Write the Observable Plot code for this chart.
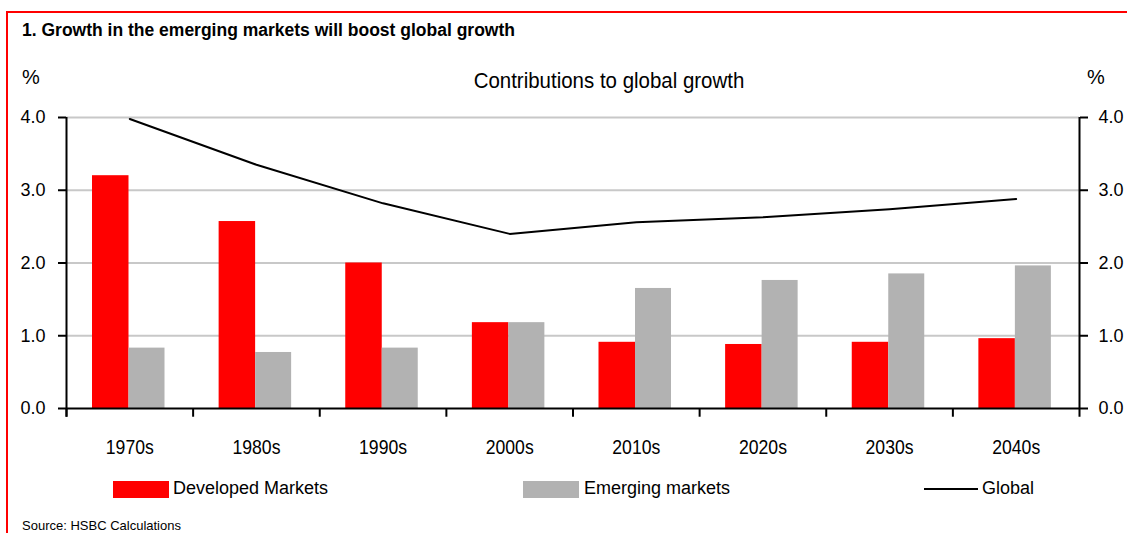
<!DOCTYPE html>
<html>
<head>
<meta charset="utf-8">
<script src="https://cdn.jsdelivr.net/npm/d3@7"></script>
<script src="https://cdn.jsdelivr.net/npm/@observablehq/plot@0.6"></script>
<style>
  html, body { margin: 0; padding: 0; background: #fff; }
  #wrap { position: relative; width: 1127px; height: 533px; overflow: hidden; background: #fff;
          font-family: "Liberation Sans", Arial, Helvetica, sans-serif; color: #000; }
  #border { position: absolute; left: 6px; top: 11px; width: 1200px; height: 600px;
            border-left: 2px solid #ff0000; border-top: 2px solid #ff0000; }
  .t { position: absolute; line-height: 1; white-space: nowrap; }
  #chart { position: absolute; left: 0; top: 0; }
  .sw { position: absolute; }
</style>
</head>
<body>
<div id="wrap">
  <div id="border"></div>
  <div id="chart"></div>
  <div class="t" id="title" style="left:22px; top:22px; font-size:17.5px; font-weight:bold;"></div>
  <div class="t" id="pctL" style="left:22px; top:67px; font-size:20px;">%</div>
  <div class="t" id="pctR" style="left:1087px; top:67px; font-size:20px;">%</div>
  <div class="t" id="subtitle" style="left:609px; top:70px; font-size:22px; transform: translateX(-50%) scaleX(0.93);"></div>
  <div class="sw" style="left:113px; top:481px; width:56px; height:17px; background:#ff0000;"></div>
  <div class="t" id="lg1" style="left:173px; top:479px; font-size:18px;"></div>
  <div class="sw" style="left:523px; top:481px; width:56px; height:17px; background:#b2b2b2;"></div>
  <div class="t" id="lg2" style="left:584px; top:479px; font-size:18px;"></div>
  <div class="sw" style="left:924px; top:488px; width:54px; height:2px; background:#000;"></div>
  <div class="t" id="lg3" style="left:982px; top:479px; font-size:18px;"></div>
  <div class="t" id="source" style="left:22px; top:519px; font-size:13px;"></div>
</div>
<script>
// ---- data ----
const decades   = ["1970s", "1980s", "1990s", "2000s", "2010s", "2020s", "2030s", "2040s"];
const developed = [3.20, 2.57, 2.00, 1.18, 0.91, 0.88, 0.91, 0.96];
const emerging  = [0.83, 0.77, 0.83, 1.18, 1.65, 1.76, 1.85, 1.96];
const global    = [3.98, 3.35, 2.82, 2.40, 2.56, 2.63, 2.74, 2.88];
const yTicks    = [0, 1, 2, 3, 4];
const seriesNames = ["Developed Markets", "Emerging markets", "Global"];
const titleText = "1. Growth in the emerging markets will boost global growth";
const subtitleText = "Contributions to global growth";
const sourceText = "Source: HSBC Calculations";

document.getElementById("title").textContent = titleText;
document.getElementById("subtitle").textContent = subtitleText;
document.getElementById("lg1").textContent = seriesNames[0];
document.getElementById("lg2").textContent = seriesNames[1];
document.getElementById("lg3").textContent = seriesNames[2];
document.getElementById("source").textContent = sourceText;

const rows = decades.map((d, i) => ({decade: d, developed: developed[i], emerging: emerging[i], global: global[i]}));

const W = 1127, H = 533;
const mL = 66, mR = 48, mT = 117, mB = 125;
const bw = (W - mL - mR) / decades.length;
const tickBelow = -0.12;

const chart = Plot.plot({
  width: W,
  height: H,
  marginLeft: mL,
  marginRight: mR,
  marginTop: mT,
  marginBottom: mB,
  style: {fontFamily: "'Liberation Sans', Arial, sans-serif", color: "#000", background: "transparent", overflow: "visible"},
  x: {type: "band", domain: decades, padding: 0, round: false},
  y: {domain: [0, 4]},
  marks: [
    Plot.gridY(yTicks.slice(1), {stroke: "#c8c8c8", strokeOpacity: 1, strokeWidth: 2}),
    Plot.barY(rows, {x: "decade", y: "developed", fill: "#ff0000", insetLeft: 26, insetRight: bw - 62.5}),
    Plot.barY(rows, {x: "decade", y: "emerging", fill: "#b2b2b2", insetLeft: 62.5, insetRight: bw - 98.5}),
    Plot.line(rows, {x: "decade", y: "global", stroke: "#000", strokeWidth: 2}),
    Plot.ruleY([0], {stroke: "#000", strokeWidth: 2}),
    Plot.ruleX(rows, {x: "decade", y1: tickBelow, y2: 0, dx: -bw / 2, stroke: "#000", strokeWidth: 2}),
    Plot.ruleX([decades[0]], {x: d => d, y1: tickBelow, y2: 4, dx: -bw / 2, stroke: "#000", strokeWidth: 2}),
    Plot.ruleX([decades[decades.length - 1]], {x: d => d, y1: tickBelow, y2: 4, dx: bw / 2, stroke: "#000", strokeWidth: 2}),
    Plot.axisY({anchor: "left", ticks: yTicks, tickFormat: d3.format(".1f"), tickSize: 8, tickPadding: 13, fontSize: 18, strokeWidth: 2, label: null}),
    Plot.axisY({anchor: "right", ticks: yTicks, tickFormat: d3.format(".1f"), tickSize: 8, tickPadding: 11, fontSize: 18, strokeWidth: 2, label: null}),
    Plot.axisX({tickSize: 0, tickPadding: 31, fontSize: 21, label: null})
  ]
});
document.getElementById("chart").appendChild(chart);

// horizontally condense the x tick labels to mimic the narrow face of the original
chart.querySelectorAll('g[aria-label="x-axis tick label"] text').forEach(t => {
  const tr = t.getAttribute("transform") || "";
  t.setAttribute("transform", tr + " scale(0.84,1)");
});
</script>
</body>
</html>
